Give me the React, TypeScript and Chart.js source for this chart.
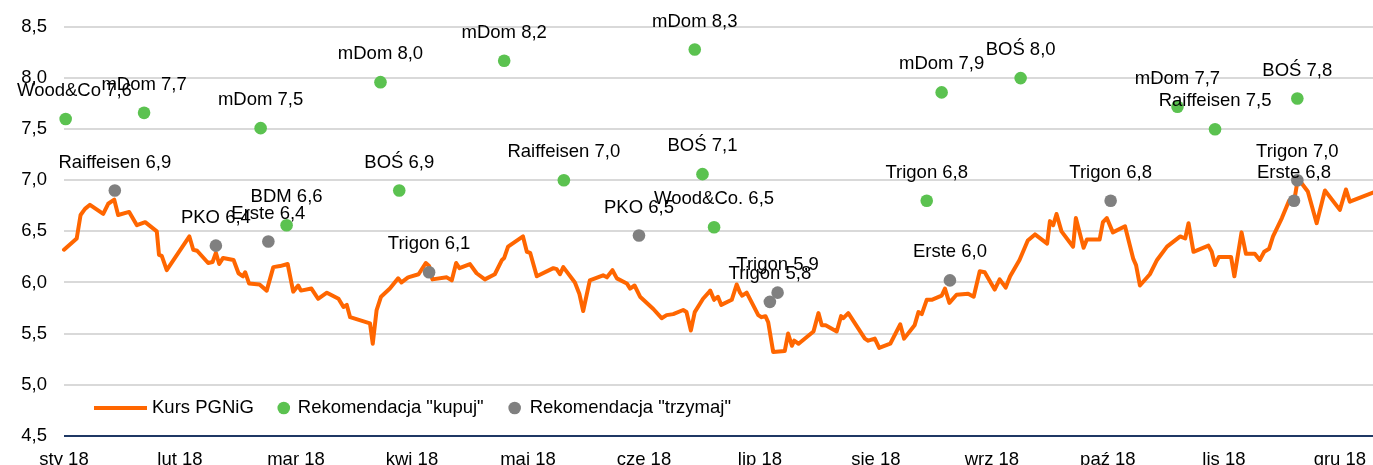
import { useEffect, useRef } from 'react';
import { Chart, registerables } from 'chart.js';

Chart.register(...registerables);

const FONT = '"Liberation Sans", Arial, sans-serif';
const FONT_SIZE = 18.5;

const monthLabels = ['sty 18', 'lut 18', 'mar 18', 'kwi 18', 'maj 18', 'cze 18', 'lip 18', 'sie 18', 'wrz 18', 'paź 18', 'lis 18', 'gru 18'];
const monthTickDays = [0, 21, 42, 63, 84, 105, 126, 147, 168, 189, 210, 231];
const lastDay = 237;

const priceDays = [0, 2.3, 3.0, 3.8, 4.7, 7.1, 8.0, 9.1, 9.8, 11.8, 13.2, 14.7, 16.8, 17.2, 17.7, 18.6, 22.7, 23.4, 24.1, 26.1, 26.9, 27.5, 28.1, 28.8, 30.7, 31.6, 32.4, 32.8, 33.5, 35.4, 36.7, 37.9, 39.1, 40.5, 41.5, 42.4, 42.9, 44.8, 46.0, 47.6, 49.7, 50.6, 51.2, 51.8, 55.4, 55.9, 56.6, 57.4, 59.0, 60.5, 61.1, 62.3, 64.2, 65.5, 66.1, 66.7, 69.3, 70.2, 71.0, 71.6, 73.5, 74.7, 76.2, 78.0, 79.3, 79.7, 80.4, 83.1, 83.8, 84.4, 85.6, 88.6, 89.2, 89.8, 90.4, 92.5, 93.3, 94.0, 95.2, 97.6, 98.3, 99.3, 100.1, 101.9, 102.5, 103.3, 104.3, 106.7, 108.2, 109.1, 110.3, 112.1, 112.7, 113.5, 114.2, 115.7, 116.7, 117.0, 117.7, 118.4, 119.0, 120.9, 121.8, 122.4, 122.8, 123.6, 125.7, 126.3, 127.0, 127.5, 128.4, 130.5, 131.1, 131.8, 132.2, 133.0, 135.7, 136.6, 137.2, 137.9, 139.9, 140.7, 141.1, 142.0, 145.0, 145.6, 146.8, 147.6, 149.6, 151.4, 152.1, 154.0, 154.7, 155.3, 156.2, 157.1, 158.9, 159.5, 160.3, 161.6, 163.7, 164.7, 165.8, 166.7, 168.5, 169.4, 170.5, 171.3, 173.0, 174.5, 175.8, 178.0, 178.5, 179.1, 179.7, 180.6, 182.7, 183.2, 184.6, 185.2, 187.5, 188.1, 188.8, 189.9, 192.1, 193.6, 194.1, 194.8, 196.6, 197.9, 199.7, 202.1, 203.0, 203.6, 204.5, 207.2, 207.8, 208.4, 209.1, 211.3, 211.9, 213.2, 214.0, 215.6, 216.5, 217.3, 218.2, 218.9, 220.5, 221.8, 222.8, 223.2, 223.8, 225.2, 226.8, 228.3, 231.0, 232.1, 232.8, 237.0];
const priceValues = [6.32, 6.43, 6.66, 6.72, 6.76, 6.67, 6.77, 6.81, 6.66, 6.69, 6.56, 6.59, 6.50, 6.27, 6.26, 6.12, 6.45, 6.32, 6.31, 6.19, 6.20, 6.29, 6.18, 6.24, 6.22, 6.09, 6.06, 6.10, 5.99, 5.98, 5.92, 6.15, 6.16, 6.18, 5.91, 5.97, 5.92, 5.94, 5.84, 5.90, 5.84, 5.76, 5.78, 5.66, 5.60, 5.40, 5.73, 5.86, 5.94, 6.04, 6.00, 6.05, 6.08, 6.19, 6.16, 6.03, 6.05, 6.02, 6.19, 6.14, 6.18, 6.09, 6.03, 6.08, 6.22, 6.24, 6.35, 6.45, 6.30, 6.29, 6.06, 6.14, 6.13, 6.08, 6.15, 6.00, 5.89, 5.72, 6.02, 6.07, 6.05, 6.12, 6.04, 5.99, 5.94, 5.97, 5.86, 5.74, 5.65, 5.68, 5.69, 5.73, 5.71, 5.53, 5.71, 5.84, 5.90, 5.92, 5.83, 5.86, 5.78, 5.83, 5.98, 5.90, 5.87, 5.90, 5.68, 5.66, 5.67, 5.61, 5.32, 5.33, 5.50, 5.38, 5.43, 5.40, 5.52, 5.70, 5.58, 5.58, 5.52, 5.67, 5.65, 5.70, 5.45, 5.43, 5.45, 5.36, 5.40, 5.59, 5.45, 5.58, 5.71, 5.69, 5.83, 5.83, 5.87, 5.94, 5.80, 5.88, 5.89, 5.86, 6.11, 6.10, 5.93, 6.03, 5.95, 6.06, 6.22, 6.41, 6.47, 6.38, 6.60, 6.56, 6.67, 6.50, 6.35, 6.63, 6.34, 6.42, 6.42, 6.59, 6.63, 6.49, 6.55, 6.23, 6.17, 5.97, 6.08, 6.22, 6.35, 6.45, 6.43, 6.58, 6.30, 6.36, 6.30, 6.17, 6.25, 6.25, 6.06, 6.49, 6.28, 6.28, 6.22, 6.30, 6.33, 6.45, 6.63, 6.80, 6.82, 6.95, 6.99, 6.89, 6.58, 6.90, 6.71, 6.91, 6.79, 6.88];

const buyNames = ['Wood&Co', 'mDom', 'mDom', 'BDM', 'mDom', 'BOŚ', 'mDom', 'Raiffeisen', 'mDom', 'BOŚ', 'Wood&Co.', 'Trigon', 'mDom', 'BOŚ', 'mDom', 'Raiffeisen', 'BOŚ'];
const buyDays = [0.3, 14.5, 35.6, 40.3, 57.3, 60.7, 79.7, 90.5, 114.2, 115.6, 117.7, 156.2, 158.9, 173.2, 201.6, 208.4, 223.3];
const buyValues = [7.60, 7.66, 7.51, 6.56, 7.96, 6.90, 8.17, 7.00, 8.28, 7.06, 6.54, 6.80, 7.86, 8.00, 7.72, 7.50, 7.80];

const holdNames = ['Raiffeisen', 'PKO', 'Erste', 'Trigon', 'PKO', 'Trigon', 'Trigon', 'Erste', 'Trigon', 'Erste', 'Trigon'];
const holdDays = [9.2, 27.5, 37.0, 66.1, 104.1, 127.8, 129.2, 160.4, 189.5, 222.7, 223.3];
const holdValues = [6.90, 6.36, 6.40, 6.10, 6.46, 5.81, 5.90, 6.02, 6.80, 6.80, 7.00];

const legendLabels = ['Kurs PGNiG', 'Rekomendacja "kupuj"', 'Rekomendacja "trzymaj"'];

const ORANGE = '#FF6600';
const GREEN = '#5BC250';
const GRAY = '#808080';
const NAVY = '#1F3864';

const fmt = (v: number) => (Math.round(v * 10) / 10).toFixed(1).replace('.', ',');

const labelPlugin = {
  id: 'pointLabels',
  afterDatasetsDraw(chart: any) {
    const ctx = chart.ctx;
    ctx.save();
    ctx.font = `${FONT_SIZE}px ${FONT}`;
    ctx.fillStyle = '#000';
    ctx.textAlign = 'center';
    ctx.textBaseline = 'middle';
    const groups = [
      { idx: 1, names: buyNames, values: buyValues },
      { idx: 2, names: holdNames, values: holdValues },
    ];
    groups.forEach((g) => {
      const meta = chart.getDatasetMeta(g.idx);
      meta.data.forEach((el: any, i: number) => {
        const text = `${g.names[i]} ${fmt(g.values[i])}`;
        const w = ctx.measureText(text).width;
        let x = el.x;
        if (x - w / 2 < 17) x = 17 + w / 2;
        if (x + w / 2 > chart.width - 4) x = chart.width - 4 - w / 2;
        ctx.fillText(text, x, el.y - 28);
      });
    });
    ctx.restore();
  },
};

const legendPlugin = {
  id: 'customLegend',
  afterDraw(chart: any) {
    const ctx = chart.ctx;
    const left = chart.chartArea.left;
    const y = 408;
    ctx.save();
    ctx.font = `${FONT_SIZE}px ${FONT}`;
    ctx.fillStyle = '#000';
    ctx.textAlign = 'left';
    ctx.textBaseline = 'middle';
    ctx.strokeStyle = ORANGE;
    ctx.lineWidth = 4;
    ctx.beginPath();
    ctx.moveTo(left + 30, y);
    ctx.lineTo(left + 83, y);
    ctx.stroke();
    let x = left + 88;
    ctx.fillText(legendLabels[0], x, y);
    x += ctx.measureText(legendLabels[0]).width + 30;
    ctx.fillStyle = GREEN;
    ctx.beginPath();
    ctx.arc(x, y, 6.3, 0, Math.PI * 2);
    ctx.fill();
    x += 14;
    ctx.fillStyle = '#000';
    ctx.fillText(legendLabels[1], x, y);
    x += ctx.measureText(legendLabels[1]).width + 31;
    ctx.fillStyle = GRAY;
    ctx.beginPath();
    ctx.arc(x, y, 6.3, 0, Math.PI * 2);
    ctx.fill();
    x += 15;
    ctx.fillStyle = '#000';
    ctx.fillText(legendLabels[2], x, y);
    ctx.restore();
  },
};

export default function App() {
  const canvasRef = useRef<HTMLCanvasElement | null>(null);

  useEffect(() => {
    document.body.style.margin = '0';
    const canvas = canvasRef.current;
    if (!canvas) return;
    const chart = new Chart(canvas, {
      type: 'line',
      data: {
        datasets: [
          {
            type: 'line',
            label: legendLabels[0],
            data: priceDays.map((d, i) => ({ x: d, y: priceValues[i] })),
            borderColor: ORANGE,
            borderWidth: 4,
            pointRadius: 0,
            tension: 0,
            borderJoinStyle: 'round',
            borderCapStyle: 'round',
            clip: false,
            order: 3,
          } as any,
          {
            type: 'scatter',
            label: legendLabels[1],
            data: buyDays.map((d, i) => ({ x: d, y: buyValues[i] })),
            backgroundColor: GREEN,
            borderWidth: 0,
            pointRadius: 6.3,
            clip: false,
            order: 2,
          } as any,
          {
            type: 'scatter',
            label: legendLabels[2],
            data: holdDays.map((d, i) => ({ x: d, y: holdValues[i] })),
            backgroundColor: GRAY,
            borderWidth: 0,
            pointRadius: 6.3,
            clip: false,
            order: 1,
          } as any,
        ],
      },
      options: {
        animation: false,
        responsive: false,
        devicePixelRatio: 1,
        layout: { autoPadding: false, padding: { top: 27, left: 0, right: 0, bottom: 0 } },
        plugins: {
          legend: { display: false },
          tooltip: { enabled: false },
        },
        scales: {
          x: {
            type: 'linear',
            min: 0,
            max: lastDay,
            afterBuildTicks: (s: any) => {
              s.ticks = monthTickDays.map((v) => ({ value: v }));
            },
            afterFit: (s: any) => {
              s.height = 29.3;
              s.paddingLeft = 0;
              s.paddingRight = 0;
            },
            ticks: {
              autoSkip: false,
              maxRotation: 0,
              padding: 5,
              color: '#000',
              font: { family: FONT, size: FONT_SIZE },
              callback: (_v: any, i: number) => monthLabels[i],
            },
            grid: { display: false },
            border: { display: false },
          },
          y: {
            type: 'linear',
            min: 4.5,
            max: 8.5,
            afterFit: (s: any) => {
              s.width = 64;
              s.paddingTop = 0;
              s.paddingBottom = 0;
            },
            ticks: {
              stepSize: 0.5,
              padding: 17,
              color: '#000',
              font: { family: FONT, size: FONT_SIZE },
              callback: (v: any) => fmt(Number(v)),
            },
            grid: {
              drawTicks: false,
              lineWidth: 2,
              color: (c: any) => (c.tick && Math.abs(c.tick.value - 4.5) < 1e-6 ? NAVY : '#D9D9D9'),
            },
            border: { display: false },
          },
        },
      },
      plugins: [labelPlugin, legendPlugin],
    });
    return () => chart.destroy();
  }, []);

  return (
    <div style={{ width: 1373, height: 465 }}>
      <canvas ref={canvasRef} width={1373} height={465} style={{ display: 'block' }} />
    </div>
  );
}
